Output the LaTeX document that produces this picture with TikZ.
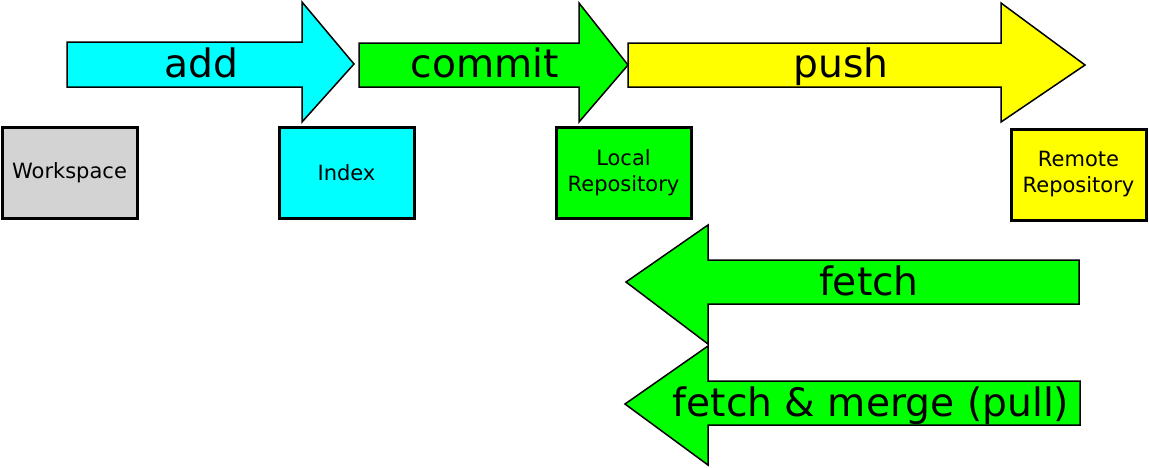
\documentclass[tikz,border=0pt]{standalone}
\usepackage{fontspec}
\setmainfont{DejaVu Sans}
\usetikzlibrary{positioning}
\definecolor{wsgray}{HTML}{D3D3D3}
\definecolor{idxcyan}{HTML}{00FFFF}
\definecolor{locgreen}{HTML}{00FF00}
\definecolor{remyellow}{HTML}{FFFF00}
\tikzset{
	store/.style={draw, line width=3pt, minimum width=135pt, minimum height=91pt, inner sep=0pt, align=center, font=\fontsize{21}{26}\selectfont},
	flow/.style={draw, line width=1.5pt, line join=miter},
	verb/.style={anchor=base, inner sep=0pt, font=\fontsize{39.2}{42}\selectfont}
}

\begin{document}
\begin{tikzpicture}[x=1pt, y=-1pt]
		%%%%% START %%%%%
		\useasboundingbox (0, 0) rectangle (1149, 467);
		
		% storage areas
		\node[store, fill=wsgray] (workspace) at (69.5, 172.5) {Workspace};
		\node[store, fill=idxcyan] (index) at (346.5, 172.5) {Index};
		\node[store, fill=locgreen] (local) at (623.5, 172.5) {Local\\Repository};
		\node[store, fill=remyellow] (remote) at (1078.5, 174.5) {Remote\\Repository};
		
		% forward arrows
		\draw[flow, fill=idxcyan] (67, 42) -- (302, 42) -- (302, 2) -- (354, 64) -- (302, 122) -- (302, 87) -- (67, 87) -- cycle;
		\node[verb] (add) at (201, 77) {add};
		
		\draw[flow, fill=locgreen] (359, 43) -- (579, 43) -- (579, 3) -- (628, 65) -- (579, 122) -- (579, 87) -- (359, 87) -- cycle;
		\node[verb] (commit) at (485, 77) {commit};
		
		\draw[flow, fill=remyellow] (628, 43) -- (1001, 43) -- (1001, 3) -- (1085, 65) -- (1001, 122) -- (1001, 87) -- (628, 87) -- cycle;
		\node[verb] (push) at (841, 77) {push};
		
		% backward arrows
		\draw[flow, fill=locgreen] (1079, 260) -- (708, 260) -- (708, 225) -- (626, 282) -- (708, 344) -- (708, 304) -- (1079, 304) -- cycle;
		\node[verb] (fetch) at (869, 295) {fetch};
		
		\draw[flow, fill=locgreen] (1080, 381) -- (708, 381) -- (708, 346) -- (625, 404) -- (708, 465) -- (708, 425) -- (1080, 425) -- cycle;
		\node[verb] (pull) at (871, 416) {fetch \& merge (pull)};
		%%%%% END %%%%%
	\end{tikzpicture}
\end{document}
